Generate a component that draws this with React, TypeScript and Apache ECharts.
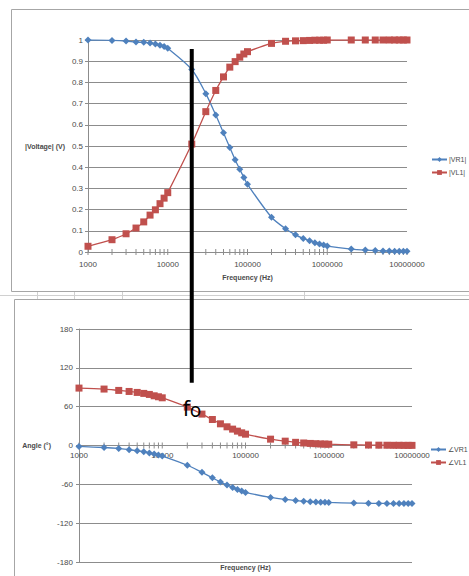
import React, { useEffect, useRef } from "react";
import * as echarts from "echarts";

const freqHz = [1000, 2000, 3000, 4000, 5000, 6000, 7000, 8000, 9000, 10000, 20000, 30000, 40000, 50000, 60000, 70000, 80000, 90000, 100000, 200000, 300000, 400000, 500000, 600000, 700000, 800000, 900000, 1000000, 2000000, 3000000, 4000000, 5000000, 6000000, 7000000, 8000000, 9000000, 10000000];

const vr1Mag = [1.0, 0.998, 0.995, 0.99, 0.989, 0.986, 0.981, 0.975, 0.969, 0.961, 0.861, 0.747, 0.646, 0.562, 0.493, 0.435, 0.39, 0.352, 0.319, 0.164, 0.11, 0.081, 0.064, 0.053, 0.044, 0.038, 0.033, 0.028, 0.014, 0.009, 0.007, 0.005, 0.005, 0.004, 0.004, 0.003, 0.003];
const vl1Mag = [0.027, 0.058, 0.086, 0.113, 0.142, 0.174, 0.199, 0.228, 0.254, 0.28, 0.509, 0.662, 0.762, 0.826, 0.872, 0.898, 0.919, 0.934, 0.945, 0.984, 0.994, 0.996, 0.997, 0.998, 0.999, 0.999, 0.999, 1.0, 1, 1, 1, 1, 1, 1, 1, 1, 1];
const vr1Ang = [-1.5, -3.1, -4.6, -6.5, -8.2, -9.6, -11.4, -13.2, -14.7, -16.3, -30.5, -41.5, -49.8, -56.5, -61, -64.7, -67.8, -70.4, -72.5, -80.2, -83.3, -85.1, -86.1, -86.8, -87.2, -87.6, -87.8, -88, -89, -89.3, -89.5, -89.6, -89.7, -89.7, -89.8, -89.8, -89.8];
const vl1Ang = [88.7, 87.2, 85.1, 83.5, 82, 80.5, 78.9, 76.8, 75.3, 73.7, 59.3, 48.5, 40.2, 33.5, 28.9, 25.3, 22.2, 19.6, 17.5, 9.8, 6.7, 4.9, 3.9, 3.2, 2.8, 2.4, 2.2, 2.0, 1.0, 0.7, 0.5, 0.4, 0.3, 0.3, 0.2, 0.2, 0.2];

// x-axis tick marks (major decades and minor 2..9 steps)
const xTickHz = freqHz;

const magNames = ["|VR1|", "|VL1|"];
const angNames = ["∠VR1", "∠VL1"];

// cutoff annotation
const foHz = 20000;
const foLineTopV = 0.958;
const foLineBottomDeg = 97;

const BLUE = "#4F81BD";
const RED = "#C0504D";
const GRID = "#8c8c8c";
const TXT = "#4a4a4a";
const FONT = "Liberation Sans";

const pairs = (xs: number[], ys: number[]) => xs.map((x, i) => [x, ys[i]]);

export default function App() {
  const ref = useRef<HTMLDivElement>(null);
  useEffect(() => {
    document.body.style.margin = "0";
    const chart = echarts.init(ref.current!, null, { renderer: "svg" });

    const tickSeries = (xi: number, yi: number) => ({
      type: "custom",
      xAxisIndex: xi,
      yAxisIndex: yi,
      silent: true,
      z: 1,
      data: xTickHz.map((f) => [f, 0]),
      renderItem: (params: any, api: any) => {
        const p = api.coord([api.value(0), 0]);
        return {
          type: "line",
          shape: { x1: p[0], y1: p[1] - 3, x2: p[0], y2: p[1] + 3 },
          style: { stroke: GRID, lineWidth: 1 },
        };
      },
    });

    const xAxisBase = {
      type: "log",
      logBase: 10,
      min: 1000,
      max: 10000000,
      splitLine: { show: false },
      axisTick: { show: false },
      minorTick: { show: false },
      axisLine: { onZero: false, lineStyle: { color: GRID, width: 1 } },
      axisLabel: {
        fontSize: 8,
        color: TXT,
        fontFamily: FONT,
        formatter: (v: number) => String(Math.round(v)),
      },
      nameLocation: "middle",
      nameTextStyle: { fontSize: 7, fontWeight: "bold", color: TXT, fontFamily: FONT },
    };

    const lineSeries = (name: string, data: number[][], color: string, sym: string, size: number, xi: number, yi: number) => ({
      name,
      type: "line",
      xAxisIndex: xi,
      yAxisIndex: yi,
      data,
      smooth: 0.3,
      symbol: sym,
      symbolSize: size,
      showSymbol: true,
      z: 3,
      lineStyle: { color, width: 1.3 },
      itemStyle: { color },
    });

    chart.setOption({
      animation: false,
      backgroundColor: "#ffffff",
      textStyle: { fontFamily: FONT },
      grid: [
        { left: 88, right: 62, top: 40, bottom: 324, outerBoundsMode: "none", containLabel: false },
        { left: 79, right: 57, top: 329, bottom: 14, outerBoundsMode: "none", containLabel: false },
      ],
      xAxis: [
        { ...xAxisBase, gridIndex: 0, name: "Frequency (Hz)", nameGap: 22, axisLabel: { ...xAxisBase.axisLabel, margin: 8 } },
        { ...xAxisBase, gridIndex: 1, name: "Frequency (Hz)", nameGap: 118, axisLabel: { ...xAxisBase.axisLabel, margin: 6 } },
      ],
      yAxis: [
        {
          type: "value",
          gridIndex: 0,
          min: 0,
          max: 1,
          interval: 0.1,
          axisLine: { show: true, onZero: false, lineStyle: { color: GRID } },
          axisTick: { show: true, length: 3, lineStyle: { color: GRID } },
          splitLine: { lineStyle: { color: GRID, width: 1 } },
          axisLabel: { fontSize: 8, color: TXT, fontFamily: FONT, margin: 5, formatter: (v: number) => String(Math.round(v * 10) / 10) },
          name: "|Voltage| (V)",
          nameLocation: "middle",
          nameRotate: 0,
          nameGap: 23,
          nameTextStyle: { fontSize: 7, fontWeight: "bold", color: TXT, fontFamily: FONT, align: "right" },
        },
        {
          type: "value",
          gridIndex: 1,
          min: -180,
          max: 180,
          interval: 60,
          axisLine: { show: true, onZero: false, lineStyle: { color: GRID } },
          axisTick: { show: true, length: 3, lineStyle: { color: GRID } },
          splitLine: { lineStyle: { color: GRID, width: 1 } },
          axisLabel: { fontSize: 8, color: TXT, fontFamily: FONT, margin: 6 },
          name: "Angle (°)",
          nameLocation: "middle",
          nameRotate: 0,
          nameGap: 28,
          nameTextStyle: { fontSize: 7, fontWeight: "bold", color: TXT, fontFamily: FONT, align: "right" },
        },
      ],
      legend: [
        {
          data: magNames,
          orient: "vertical",
          left: 426,
          top: 151,
          itemWidth: 15,
          itemHeight: 6,
          itemGap: 6,
          textStyle: { fontSize: 7, color: TXT, fontFamily: FONT, padding: [0, 0, 0, -3] },
        },
        {
          data: angNames,
          orient: "vertical",
          left: 425,
          top: 441,
          itemWidth: 15,
          itemHeight: 6,
          itemGap: 6,
          textStyle: { fontSize: 7, color: TXT, fontFamily: FONT, padding: [0, 0, 0, -3] },
        },
      ],
      series: [
        tickSeries(0, 0),
        tickSeries(1, 1),
        lineSeries(magNames[0], pairs(freqHz, vr1Mag), BLUE, "diamond", 7, 0, 0),
        lineSeries(magNames[1], pairs(freqHz, vl1Mag), RED, "rect", 7, 0, 0),
        lineSeries(angNames[0], pairs(freqHz, vr1Ang), BLUE, "diamond", 7, 1, 1),
        lineSeries(angNames[1], pairs(freqHz, vl1Ang), RED, "rect", 7, 1, 1),
      ],
    });

    // place the phase chart's x axis on its 0° line
    const zeroY = chart.convertToPixel({ yAxisIndex: 1 }, 0) as number;
    const minY = chart.convertToPixel({ yAxisIndex: 1 }, -180) as number;
    chart.setOption({ xAxis: [{}, { offset: zeroY - minY }] });

    const top = chart.convertToPixel({ xAxisIndex: 0, yAxisIndex: 0 }, [foHz, foLineTopV]) as number[];
    const bot = chart.convertToPixel({ xAxisIndex: 1, yAxisIndex: 1 }, [foHz, foLineBottomDeg]) as number[];
    const fx = top[0];

    chart.setOption({
      graphic: [
        { type: "rect", z: -10, silent: true, shape: { x: 11.5, y: 9.5, width: 480, height: 282 }, style: { fill: "none", stroke: "#a6a6a6", lineWidth: 1 } },
        { type: "rect", z: -10, silent: true, shape: { x: 14.5, y: 299.5, width: 480, height: 300 }, style: { fill: "none", stroke: "#a6a6a6", lineWidth: 1 } },
        { type: "line", z: -10, silent: true, shape: { x1: 0, y1: 295.5, x2: 469, y2: 295.5 }, style: { stroke: "#d0d0d0", lineWidth: 1 } },
        { type: "line", z: -10, silent: true, shape: { x1: 37.5, y1: 292, x2: 37.5, y2: 299 }, style: { stroke: "#d0d0d0", lineWidth: 1 } },
        { type: "line", z: -10, silent: true, shape: { x1: 74.5, y1: 292, x2: 74.5, y2: 299 }, style: { stroke: "#d0d0d0", lineWidth: 1 } },
        { type: "line", z: -10, silent: true, shape: { x1: 122.5, y1: 292, x2: 122.5, y2: 299 }, style: { stroke: "#d0d0d0", lineWidth: 1 } },
        { type: "line", z: -10, silent: true, shape: { x1: 304.5, y1: 292, x2: 304.5, y2: 299 }, style: { stroke: "#d0d0d0", lineWidth: 1 } },
        { type: "line", z: 100, silent: true, shape: { x1: fx, y1: top[1], x2: fx, y2: bot[1] }, style: { stroke: "#000000", lineWidth: 4 } },
        { type: "text", z: 100, silent: true, x: fx - 9, y: 397, style: { text: "f", fontSize: 21, fontFamily: "Noto Sans", fill: "#000000" } },
        { type: "text", z: 100, silent: true, x: fx - 2, y: 400, style: { text: "o", fontSize: 19, fontFamily: "Noto Sans", fill: "#000000" } },
      ],
    });

    return () => chart.dispose();
  }, []);
  return <div ref={ref} style={{ width: 469, height: 576 }} />;
}
